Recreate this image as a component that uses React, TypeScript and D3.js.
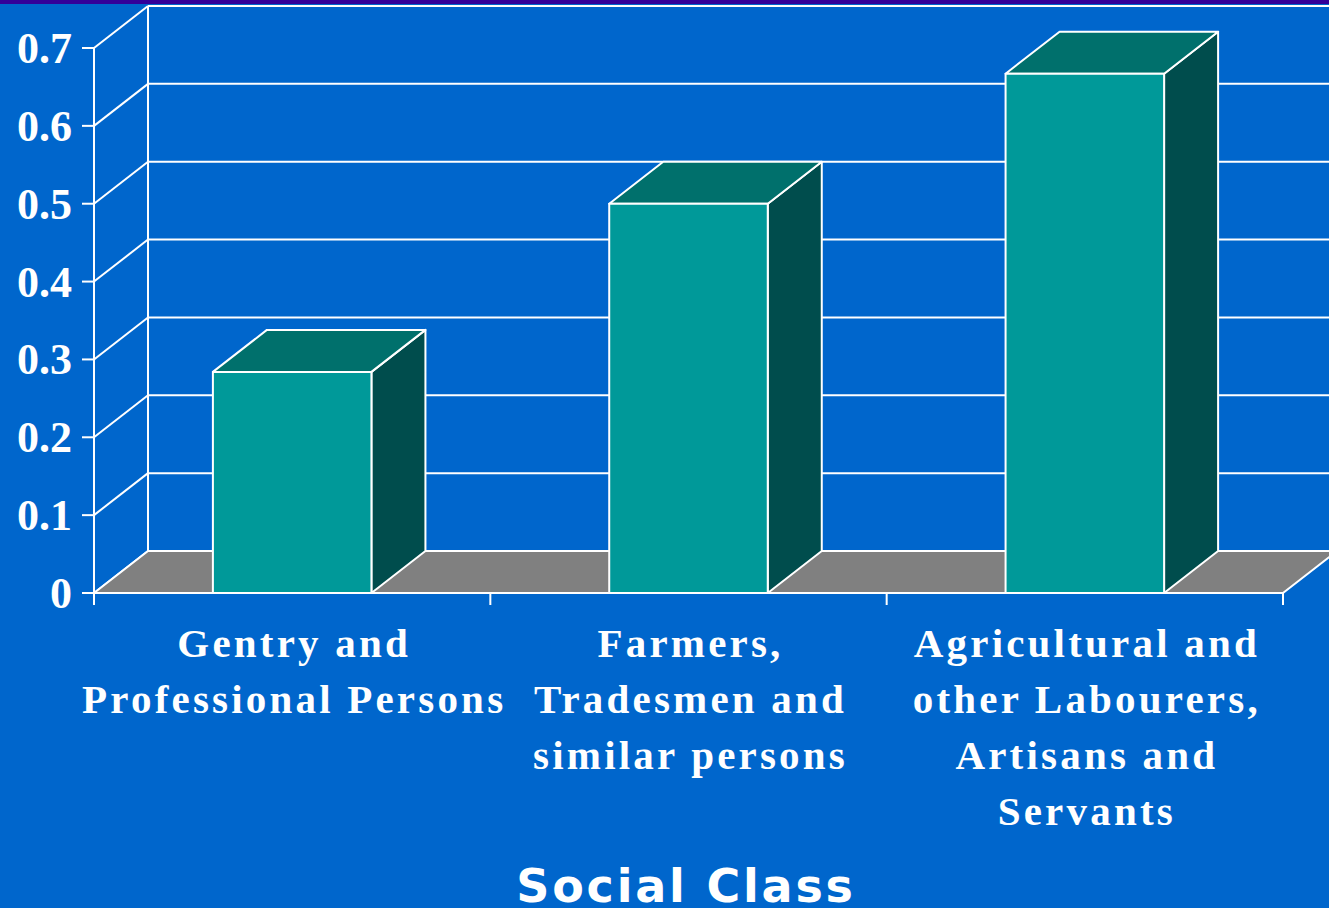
import React from 'react';
import * as d3 from 'd3';

const categories = ['Gentry', 'Farmers', 'Labourers'];
const labelLines = [
  ['Gentry and', 'Professional Persons'],
  ['Farmers,', 'Tradesmen and', 'similar persons'],
  ['Agricultural and', 'other Labourers,', 'Artisans and', 'Servants'],
];
const values = [0.284, 0.5, 0.667];
const yTicks = [0, 0.1, 0.2, 0.3, 0.4, 0.5, 0.6, 0.7];
const axisTitle = 'Social Class';

const W = 1329;
const H = 908;
const DX = 54;
const DY = 42;

const App = () => {
  const x = d3.scaleBand<string>()
    .domain(categories)
    .range([94, 1283])
    .paddingInner(0.6)
    .paddingOuter(0.3);
  const y = d3.scaleLinear().domain([0, 0.7]).range([593, 48]);

  const x0 = x.range()[0];
  const x1 = x.range()[1];
  const y0 = y(0);
  const yTop = y(0.7);
  const step = x.step();
  const tickXs = categories.map((c, i) => x0 + i * step).concat([x1]);

  const floor = [
    [x0, y0], [x1, y0], [x1 + DX, y0 - DY], [x0 + DX, y0 - DY],
  ].map(p => p.join(',')).join(' ');

  const serif = '"Liberation Serif", "Times New Roman", serif';
  const sans = '"DejaVu Sans", Verdana, sans-serif';

  return (
    <div style={{ position: 'absolute', left: 0, top: 0 }}>
      <svg width={W} height={H} style={{ display: 'block' }}>
        <rect width={W} height={H} fill="#0066cc" />
        <rect width={W} height={4} fill="#330099" />

        {/* back wall gridlines */}
        {yTicks.map(t => (
          <line key={'g' + t} x1={x0 + DX} x2={W} y1={y(t) - DY} y2={y(t) - DY}
            stroke="#fff" strokeWidth={2} />
        ))}
        <line x1={x0 + DX} x2={x0 + DX} y1={yTop - DY} y2={y0 - DY} stroke="#fff" strokeWidth={2} />

        {/* side wall diagonals */}
        {yTicks.map(t => (
          <line key={'d' + t} x1={x0} y1={y(t)} x2={x0 + DX} y2={y(t) - DY}
            stroke="#fff" strokeWidth={2} />
        ))}

        {/* floor */}
        <polygon points={floor} fill="#808080" stroke="#fff" strokeWidth={2} strokeLinejoin="round" />

        {/* bars */}
        {categories.map((c, i) => {
          const bx = x(c)!;
          const bw = x.bandwidth();
          const by = y(values[i]);
          const top = [[bx, by], [bx + bw, by], [bx + bw + DX, by - DY], [bx + DX, by - DY]]
            .map(p => p.join(',')).join(' ');
          const side = [[bx + bw, by], [bx + bw + DX, by - DY], [bx + bw + DX, y0 - DY], [bx + bw, y0]]
            .map(p => p.join(',')).join(' ');
          return (
            <g key={c} stroke="#fff" strokeWidth={2} strokeLinejoin="round">
              <polygon points={side} fill="#004d4d" />
              <polygon points={top} fill="#00706c" />
              <rect x={bx} y={by} width={bw} height={y0 - by} fill="#009999" />
            </g>
          );
        })}

        {/* axes */}
        <line x1={x0} x2={x0} y1={yTop} y2={y0 + 12} stroke="#fff" strokeWidth={2} />
        <line x1={x0} x2={x1} y1={y0} y2={y0} stroke="#fff" strokeWidth={2} />
        {yTicks.map(t => (
          <g key={'t' + t}>
            <line x1={x0 - 12} x2={x0} y1={y(t)} y2={y(t)} stroke="#fff" strokeWidth={2} />
            <text x={72} y={y(t) + 15} textAnchor="end" fill="#fff"
              fontFamily={serif} fontWeight="bold" fontSize={44}>{String(t)}</text>
          </g>
        ))}
        {tickXs.map((tx, i) => (
          <line key={'x' + i} x1={tx} x2={tx} y1={y0} y2={y0 + 12} stroke="#fff" strokeWidth={2} />
        ))}

        {/* category labels */}
        {categories.map((c, i) => (
          <text key={'l' + c} textAnchor="middle" fill="#fff" fontFamily={serif}
            fontWeight="bold" fontSize={41} letterSpacing={3.2}>
            {labelLines[i].map((ln, j) => (
              <tspan key={j} x={x(c)! + x.bandwidth() / 2 + 2} y={657 + j * 56}>{ln}</tspan>
            ))}
          </text>
        ))}

        <text x={686} y={902} textAnchor="middle" fill="#fff" fontFamily={sans}
          fontWeight="bold" fontSize={46} letterSpacing={2.8}>{axisTitle}</text>
      </svg>
    </div>
  );
};

export default App;
